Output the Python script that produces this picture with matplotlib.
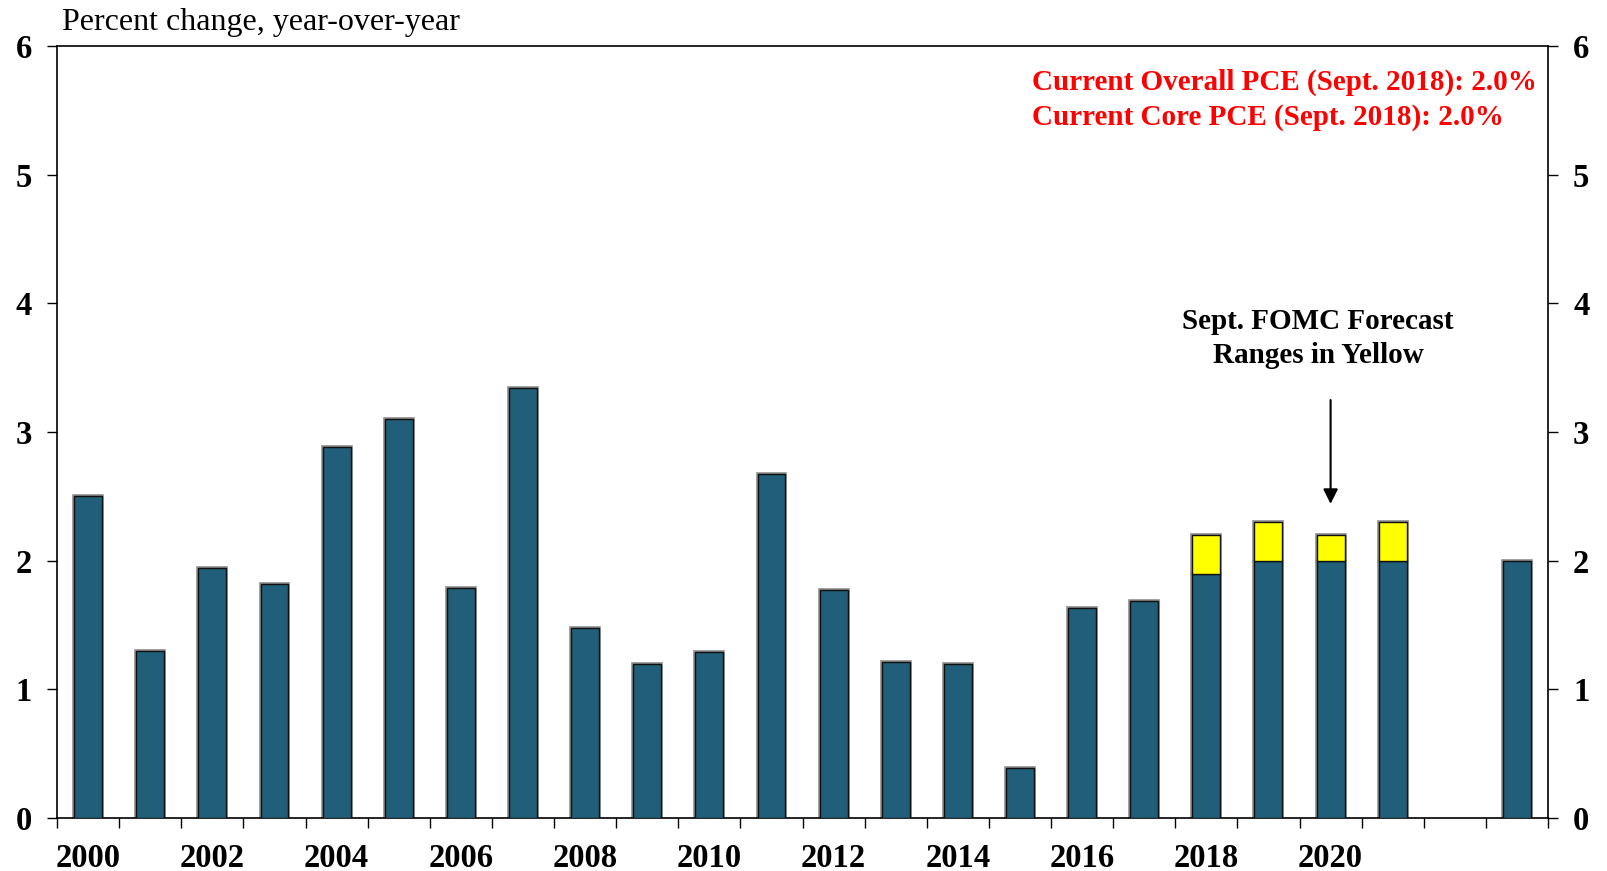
"""PCE inflation bars with September FOMC forecast ranges."""

import matplotlib

matplotlib.use("Agg")
import matplotlib.pyplot as plt
import numpy as np

plt.rcParams["font.family"] = ["Liberation Serif", "DejaVu Serif"]

# Slots 2000..2023 (2022 left empty, 2023 = longer run)
years = list(range(2000, 2024))
actual = [2.5, 1.3, 1.94, 1.82, 2.88, 3.1, 1.79, 3.34, 1.48, 1.2, 1.29, 2.67,
          1.77, 1.21, 1.2, 0.39, 1.63, 1.69, 1.9, 2.0, 2.0, 2.0, np.nan, 2.0]
range_top = [np.nan] * 18 + [2.2, 2.3, 2.2, 2.3, np.nan, np.nan]
tick_years = [2000, 2002, 2004, 2006, 2008, 2010, 2012, 2014, 2016, 2018, 2020]

BAR = "#215e79"
x = np.arange(len(years))
base = np.array(actual)
top = np.array(range_top)

fig = plt.figure(figsize=(16.08, 8.71), dpi=100)
ax = fig.add_axes([0.0355, 0.0608, 0.9272, 0.8864])

w = 0.45
# grey halo + dark outline, like the original's bevelled bars
ax.bar(x, base, width=w, color=BAR, edgecolor="#8c8c8c", linewidth=2.6, zorder=2)
ax.bar(x, base, width=w, color=BAR, edgecolor="#111111", linewidth=1.0, zorder=3)
ext = top - base
ax.bar(x, ext, bottom=base, width=w, color="#ffff00", edgecolor="#8c8c8c", linewidth=2.6, zorder=2)
ax.bar(x, ext, bottom=base, width=w, color="#ffff00", edgecolor="#111111", linewidth=1.0, zorder=3)

ax.set_xlim(-0.5, len(years) - 0.5)
ax.set_ylim(0, 6)

ax.set_xticks([years.index(y) for y in tick_years])
ax.set_xticklabels([str(y) for y in tick_years], fontsize=23.5, fontweight="bold")
ax.tick_params(axis="x", which="major", length=0, pad=18)
ax.set_xticks(np.arange(-0.5, len(years), 1.0), minor=True)
ax.tick_params(axis="x", which="minor", length=7, width=1, direction="out")

ax.set_yticks(range(7))
ax.tick_params(axis="y", which="major", length=7, width=1, direction="out",
               labelsize=23.5, pad=11, left=True, right=True,
               labelleft=True, labelright=True)
for lab in ax.get_yticklabels():
    lab.set_fontweight("bold")

for s in ax.spines.values():
    s.set_linewidth(1.2)

fig.text(0.0385, 0.965, "Percent change, year-over-year", fontsize=23,
         ha="left", va="baseline")

ax.text(0.9925, 0.97, "Current Overall PCE (Sept. 2018): 2.0%\nCurrent Core PCE (Sept. 2018): 2.0%",
        transform=ax.transAxes, ha="right", va="top", color="red",
        fontsize=21, fontweight="bold", linespacing=1.32, multialignment="left")

ax.text(19.8, 3.96, "Sept. FOMC Forecast\nRanges in Yellow", ha="center", va="top",
        fontsize=21, fontweight="bold", linespacing=1.32)
ax.annotate("", xy=(20, 2.42), xytext=(20, 3.27),
            arrowprops=dict(arrowstyle="-|>", color="black", lw=1.5,
                            mutation_scale=22))

fig.savefig("out.png", dpi=100)
